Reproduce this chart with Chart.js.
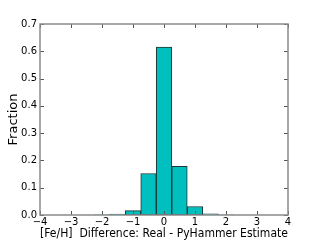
<!DOCTYPE html>
<html>
<head>
<meta charset="utf-8">
<script src="https://cdn.jsdelivr.net/npm/chart.js@4/dist/chart.umd.min.js"></script>
<style>
  html,body{margin:0;padding:0;background:#fff;}
  #wrap{width:320px;height:240px;}
</style>
</head>
<body>
<div id="wrap"><canvas id="c" width="320" height="240"></canvas></div>
<script>
'use strict';

/* Histogramm: Bin-Mitten (Breite 0.5) und Anteile */
const binCenters=[-2,-1.5,-1,-0.5,0,0.5,1,1.5,2];
const fractions =[0.001,0.003,0.016,0.152,0.615,0.178,0.031,0.004,0.001];
const xTicks=[-4,-3,-2,-1,0,1,2,3,4];
const yTicks=[0,0.1,0.2,0.3,0.4,0.5,0.6,0.7];

const FONT='DejaVu Sans';
const minus=(v)=>String(v).replace('-','\u2212');

/* Rahmen + nach innen zeigende Ticks auf allen vier Seiten */
const frameTicks={
  id:'frameTicks',
  afterDraw(chart){
    const ctx=chart.ctx, a=chart.chartArea, x=chart.scales.x, y=chart.scales.y;
    const L=4;
    ctx.save();
    ctx.strokeStyle='#555'; ctx.lineWidth=1;
    ctx.beginPath();
    xTicks.forEach(v=>{ const px=Math.round(x.getPixelForValue(v))+0.5;
      ctx.moveTo(px,a.bottom); ctx.lineTo(px,a.bottom-L);
      ctx.moveTo(px,a.top); ctx.lineTo(px,a.top+L); });
    yTicks.forEach(v=>{ const py=Math.round(y.getPixelForValue(v))+0.5;
      ctx.moveTo(a.left,py); ctx.lineTo(a.left+L,py);
      ctx.moveTo(a.right,py); ctx.lineTo(a.right-L,py); });
    ctx.stroke();
    ctx.strokeStyle='#8a8a8a'; ctx.lineWidth=1.5;
    ctx.strokeRect(a.left,a.top,a.right-a.left,a.bottom-a.top);
    ctx.restore();
  }
};

new Chart(document.getElementById('c'),{
  type:'bar',
  data:{ datasets:[{
    data:binCenters.map((c,i)=>({x:c,y:fractions[i]})),
    backgroundColor:'#00bfbf', borderColor:'#1e3434', borderWidth:1,
    barPercentage:1, categoryPercentage:1, borderSkipped:false
  }]},
  options:{
    responsive:false, animation:false,
    layout:{ padding:{ left:0, right:32, top:24, bottom:0 } },
    plugins:{ legend:{display:false}, tooltip:{enabled:false} },
    scales:{
      x:{ type:'linear', min:-4, max:4, offset:false,
        afterBuildTicks:(s)=>{ s.ticks=xTicks.map(v=>({value:v})); },
        afterFit:(s)=>{ s.height=25; },
        grid:{ display:false, drawTicks:false, tickLength:0 }, border:{ display:false },
        ticks:{ color:'#000', font:{family:FONT,size:10,lineHeight:1}, padding:2, maxRotation:0,
          callback:(v)=>minus(v) },
        title:{ display:true, text:'[Fe/H]  Difference: Real - PyHammer Estimate',
          color:'#000', font:{family:FONT,size:13,lineHeight:1}, padding:{top:0,bottom:0} } },
      y:{ min:0, max:0.7,
        afterBuildTicks:(s)=>{ s.ticks=yTicks.map(v=>({value:v})); },
        afterFit:(s)=>{ s.width=40; },
        grid:{ display:false, drawTicks:false, tickLength:0 }, border:{ display:false },
        ticks:{ color:'#000', font:{family:FONT,size:10}, padding:3,
          callback:(v)=>Number(v).toFixed(1) },
        title:{ display:true, text:'Fraction', color:'#000',
          font:{family:FONT,size:13,lineHeight:1}, padding:{top:7,bottom:0} } }
    }
  },
  plugins:[frameTicks]
});
</script>
</body>
</html>
